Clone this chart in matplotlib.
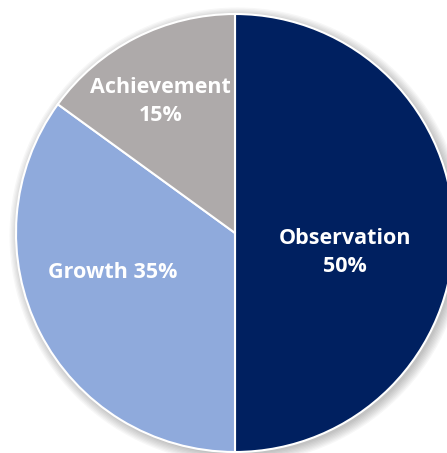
import matplotlib
matplotlib.use('Agg')
import matplotlib.pyplot as plt
from matplotlib.patches import Circle

categories = ['Observation', 'Growth', 'Achievement']
shares = [50, 35, 15]
colors = ['#002060', '#8FAADC', '#AEAAAA']
# label text and where it sits (data units, pie radius = 1)
label_text = ['Observation\n50%', 'Growth 35%', 'Achievement\n15%']
label_pos = [(0.50, -0.09), (-0.56, -0.18), (-0.34, 0.60)]

W, H = 447, 453
R = 219.0
cx, cy = 235.0, 233.0

fig = plt.figure(figsize=(W / 100, H / 100), dpi=100)
ax = fig.add_axes([0, 0, 1, 1])

# soft shadow
for i in range(8):
    ax.add_patch(Circle((0.012, -0.012), 1.0 + 0.006 * i, color='#000000',
                        alpha=0.03, lw=0, zorder=0))

ax.pie(shares, colors=colors, startangle=90, counterclock=False,
       wedgeprops=dict(edgecolor='white', linewidth=1.5), radius=1.0)

for txt, (x, y) in zip(label_text, label_pos):
    ax.text(x, y, txt, ha='center', va='center', color='white',
            fontsize=15.5, fontweight='bold', family='Open Sans', linespacing=1.45)

ax.set_xlim(-cx / R, (W - cx) / R)
ax.set_ylim(-(H - cy) / R, cy / R)
ax.set_aspect('equal')
ax.axis('off')

fig.savefig('out.png', dpi=100)
